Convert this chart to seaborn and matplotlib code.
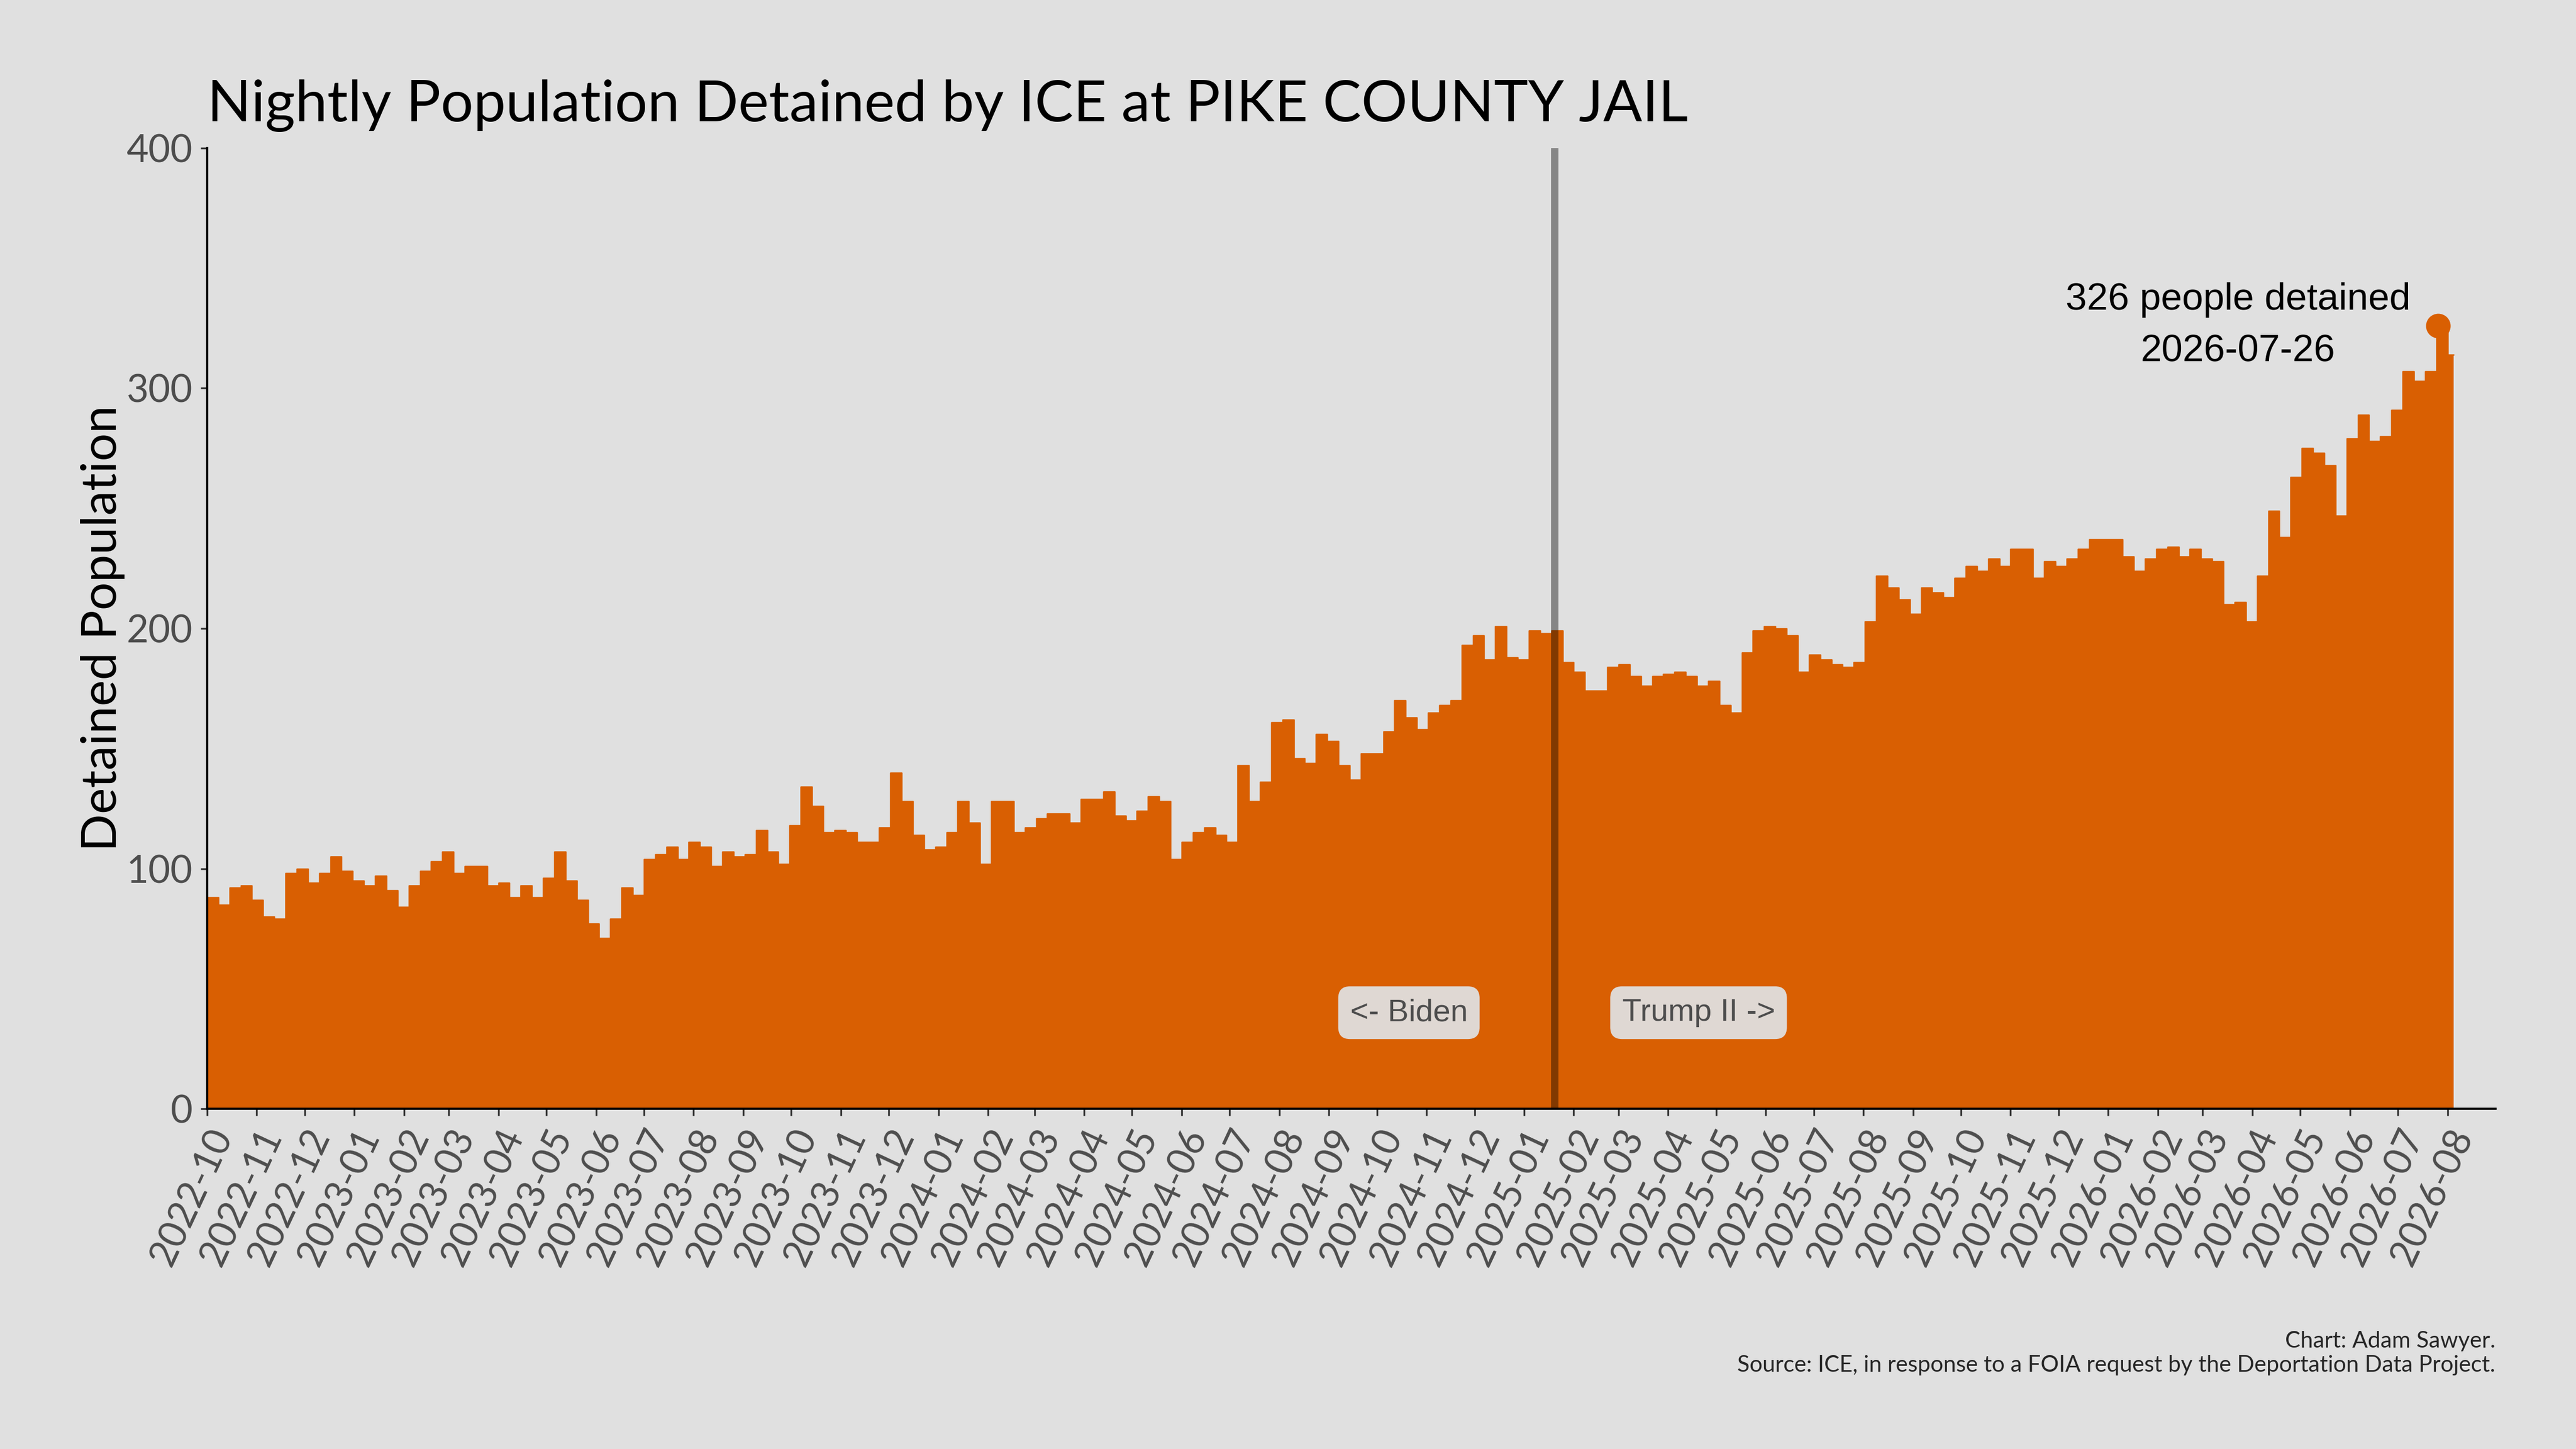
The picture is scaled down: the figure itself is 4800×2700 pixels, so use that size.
import pandas as pd
import matplotlib.pyplot as plt
import matplotlib.dates as mdates
import seaborn as sns


# weekly level of the nightly count (weeks start 2022-10-01)
start = "2022-10-01"
end = "2026-08-05"
w2022 = [88, 85, 92, 93, 87, 80, 79, 98, 100, 94, 98, 105, 99]
w2023 = [95, 93, 97, 91, 84, 93, 99, 103, 107, 98, 101, 101, 93, 94, 88, 93, 88, 96,
         107, 95, 87, 77, 71, 79, 92, 89, 104, 106, 109, 104, 111, 109, 101, 107, 105,
         106, 116, 107, 102, 118, 134, 126, 115, 116, 115, 111, 111, 117, 140, 128, 114, 108]
w2024 = [109, 115, 128, 119, 102, 128, 128, 115, 117, 121, 123, 123, 119, 129, 129, 132,
         122, 120, 124, 130, 128, 104, 111, 115, 117, 114, 111, 143, 128, 136, 161, 162,
         146, 144, 156, 153, 143, 137, 148, 148, 157, 170, 163, 158, 165, 168, 170, 193,
         197, 187, 201, 188]
w2025 = [187, 199, 198, 199, 186, 182, 174, 174, 184, 185, 180, 176, 180, 181, 182, 180,
         176, 178, 168, 165, 190, 199, 201, 200, 197, 182, 189, 187, 185, 184, 186, 203,
         222, 217, 212, 206, 217, 215, 213, 221, 226, 224, 229, 226, 233, 233, 221, 228,
         226, 229, 233, 237]
w2026 = [237, 237, 230, 224, 229, 233, 234, 230, 233, 229, 228, 210, 211, 203, 222, 249,
         238, 263, 275, 273, 268, 247, 279, 289, 278, 280, 291, 307, 303, 307, 324, 314]

peak_date = "2026-07-26"
peak_value = 326
inauguration = "2025-01-20"
facility = "PIKE COUNTY JAIL"

values = w2022 + w2023 + w2024 + w2025 + w2026
weeks = pd.date_range(start, periods=len(values), freq="7D")
df = pd.DataFrame({"week": weeks, "detained": values})

sns.set_theme(style="ticks", rc={"axes.facecolor": "#e0e0e0",
                                 "figure.facecolor": "#e0e0e0",
                                 "axes.edgecolor": "black"})
plt.rcParams["font.family"] = ["Lato", "DejaVu Sans"]

orange = sns.color_palette("Dark2")[1]
grey_txt = "#4d4d4d"
arial = ["Liberation Sans", "DejaVu Sans"]

fig, ax = plt.subplots(figsize=(16, 9), dpi=300)
fig.subplots_adjust(left=0.0804, right=0.96875, bottom=0.2348, top=0.8978)

edges = list(df["week"]) + [pd.Timestamp(end)]
heights = values + [values[-1]]
ax.fill_between(edges, heights, step="post", color=orange, linewidth=0, zorder=2)
sns.lineplot(x=edges, y=heights, drawstyle="steps-post", color=orange,
             linewidth=0.6, ax=ax, zorder=2)

inaug = pd.Timestamp(inauguration)
ax.axvline(inaug, color="black", alpha=0.4, linewidth=3.3, zorder=3)

peak = pd.Timestamp(peak_date)
ax.plot(peak, peak_value, "o", color=orange, markersize=10, zorder=4)
ax.text(peak - pd.Timedelta(days=125), peak_value,
        f"{peak_value} people detained\n{peak_date}",
        ha="center", va="center", fontsize=17, color="black",
        linespacing=1.6, family=arial)

box = dict(boxstyle="round,pad=0.38", facecolor="#e0e0e0", edgecolor="none", alpha=0.95)
ax.text(inaug - pd.Timedelta(days=91), 40, "<- Biden", ha="center", va="center",
        fontsize=14, color=grey_txt, family=arial, bbox=box, zorder=5)
ax.text(inaug + pd.Timedelta(days=90), 40, "Trump II ->", ha="center", va="center",
        fontsize=14, color=grey_txt, family=arial, bbox=box, zorder=5)

ax.set_xlim(pd.Timestamp("2022-10-01"), pd.Timestamp("2026-08-31"))
ax.set_ylim(0, 400)
ax.set_yticks([0, 100, 200, 300, 400])
ax.xaxis.set_major_locator(mdates.MonthLocator())
ax.xaxis.set_major_formatter(mdates.DateFormatter("%Y-%m"))
plt.setp(ax.get_xticklabels(), rotation=65, ha="right", rotation_mode="anchor")
ax.tick_params(labelsize=17, labelcolor=grey_txt, color="#333333", length=3, width=0.8)

ax.set_title(f"Nightly Population Detained by ICE at {facility}", loc="left",
             fontsize=25.8, pad=12, color="black")
ax.set_ylabel("Detained Population", fontsize=22.1, labelpad=0.5, color="black")
ax.set_xlabel("")

sns.despine(ax=ax)
for side in ["left", "bottom"]:
    ax.spines[side].set_linewidth(1)
    ax.spines[side].set_color("black")

fig.text(0.96875, 0.070, "Chart: Adam Sawyer.", ha="right", va="baseline", fontsize=10.2)
fig.text(0.96875, 0.0533,
         "Source: ICE, in response to a FOIA request by the Deportation Data Project.",
         ha="right", va="baseline", fontsize=10.2)

fig.savefig("out.png", dpi=300, facecolor=fig.get_facecolor())
plt.close(fig)
